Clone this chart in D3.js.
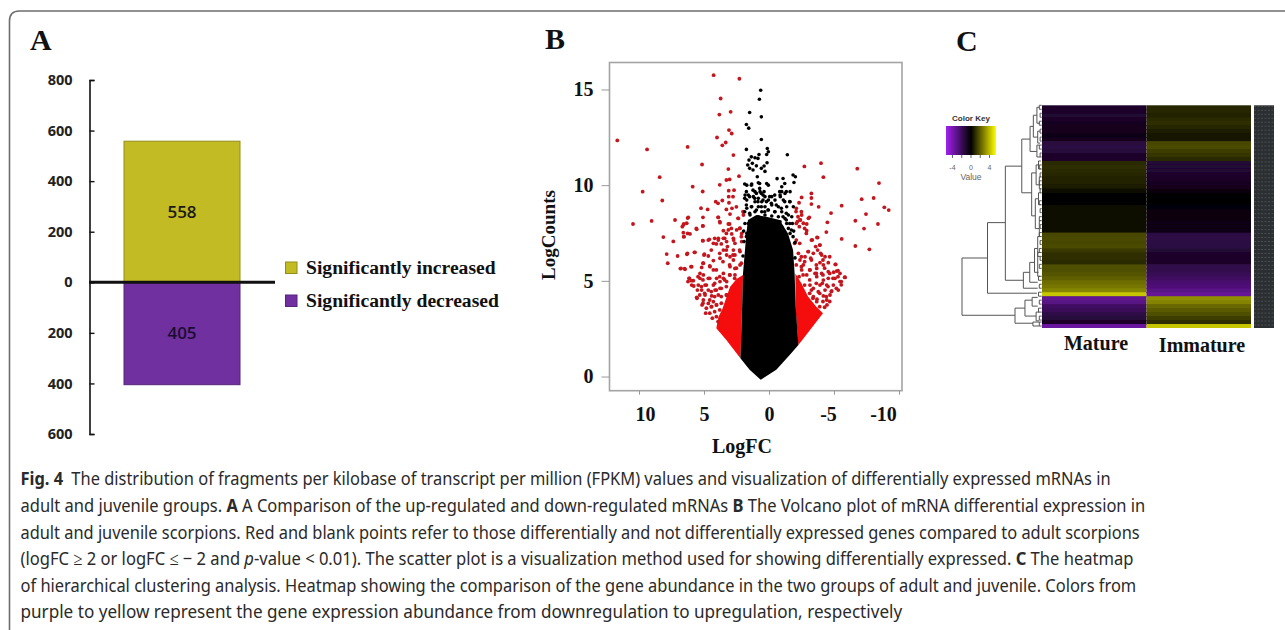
<!DOCTYPE html>
<html>
<head>
<meta charset="utf-8">
<script src="https://cdn.jsdelivr.net/npm/d3@7"></script>
<style>
  html, body { margin: 0; padding: 0; background: #fff; }
  svg { display: block; }
  .serif { font-family: "Liberation Serif", serif; font-weight: 700; fill: #111; }
  .sans { font-family: "Open Sans", sans-serif; }
</style>
</head>
<body>
<svg id="chart" width="1285" height="630"></svg>
<script>
// MARK: Panel A data.

const barTicks  = [800, 600, 400, 200, 0, -200, -400, -600]
const barLabels = ['Significantly increased', 'Significantly decreased']
const barValues = [558, -405]
const barColors = ['#c2bb24', '#7030a0']

// MARK: Panel B data. Pairs are [logFC, logCounts].

const volcanoXTicks = [10, 5, 0, -5, -10]
const volcanoYTicks = [15, 10, 5, 0]

const blackBody = [
  [.64, -.17], [1.49, .35], [2.2, .96], [2.15, 1.91], [2.08, 3.31], [2, 5.39], [1.87, 6.44], [1.74, 7.48], [1.62, 8.18],
  [.97, 8.44], [.2, 8.35], [-.82, 8.18], [-1.46, 7.48], [-1.85, 6.61], [-1.97, 5.39], [-2.05, 3.65], [-2.26, 1.65],
  [-1.59, 1.13], [-.56, .35],
]
const redWingLeft = [[2.2, .96], [3.28, 1.91], [4.05, 2.52], [3.9, 3.1], [3.6, 3.5], [3, 4.68], [2.5, 5.1], [2, 5.3], [2.1, 3]]
const redWingRight = [[-2.26, 1.65], [-4.15, 3.31], [-3.64, 3.65], [-3, 4.18], [-2.49, 4.88], [-2.03, 5.39], [-2.05, 3.5]]

const redPoints = [
  [4.26, 15.75], [2.28, 15.56], [3.72, 14.53], [3.82, 13.69], [2.95, 13.83], [3.08, 12.88], [2.87, 12.7], [4, 12.49],
  [3.33, 12.23], [3.59, 12.08], [11.67, 12.34], [9.38, 11.87], [6.26, 12], [2.74, 11.57], [5.15, 11.08], [3.13, 10.84],
  [8.41, 10.42], [2.31, 10.47], [3.28, 10.27], [3.03, 10.3], [3.79, 10.02], [5.87, 9.92], [9.72, 9.66], [5.1, 9.67],
  [3.1, 9.71], [2.69, 9.74], [8.21, 9.2], [4.1, 9.14], [3.92, 9.05], [3.59, 9.2], [3.1, 9.4], [2.77, 9.4], [3.08, 9.08],
  [2.51, 8.87], [5.23, 8.8], [4.72, 8.73], [3.28, 8.73], [2.85, 8.79], [2, 8.61], [10.46, 7.97], [9.03, 8.13], [7.23, 8.18],
  [6.26, 8.28], [6.56, 7.97], [6.67, 7.83], [5.08, 8.32], [3.92, 8.32], [3.79, 8.09], [3.03, 7.97], [2.38, 8.27], [5.08, 7.87],
  [5.59, 7.74], [6.26, 7.48], [6.56, 7.31], [8.13, 7.29], [7.36, 7.06], [5.08, 7.1], [4.67, 7.13], [4.18, 7.22], [3.9, 7.13],
  [3.67, 6.93], [3.28, 7.48], [2.9, 7.74], [2.26, 7.74], [2.13, 7.31], [3.41, 7.22], [2.72, 7.13], [4.05, 6.93], [7.87, 6.4],
  [7.03, 6.3], [6.31, 6.39], [5.74, 6.49], [4.97, 6.39], [4.44, 6.61], [3.79, 6.44], [3.28, 6.61], [2.77, 6.35], [2.26, 6.61],
  [7.79, 5.92], [6.82, 5.64], [6.49, 5.64], [6, 5.74], [5.08, 5.92], [4.56, 5.78], [4.05, 5.57], [3.54, 6], [3.03, 5.83],
  [2.51, 5.66], [2.13, 5.92], [6.15, 5.13], [5.97, 5.01], [6.23, 4.96], [5.79, 4.73], [5.46, 5.22], [5.08, 5.05], [5.2, 4.7],
  [5.51, 4.52], [4.82, 4.78], [4.56, 5.13], [4.18, 4.87], [3.79, 5.22], [3.41, 5.05], [3.03, 5.31], [2.64, 5.13], [5.33, 4.26],
  [4.95, 4.35], [4.44, 4.44], [4.05, 4.52], [3.67, 4.61], [3.28, 4.7], [5.54, 4.09], [5.08, 3.83], [4.56, 4], [4.18, 4.18],
  [3.67, 4.18], [3.28, 4.26], [4.82, 3.57], [4.44, 3.65], [4.05, 3.74], [3.67, 3.83], [4.56, 3.31], [4.18, 3.39], [3.79, 3.48],
  [4.36, 3.05], [4.05, 3.13], [3.92, 2.87], [5.15, 3.74], [4.87, 3.31],
  [6.21, 8.32], [6.59, 7.92], [6.33, 8.01], [5.1, 7.87], [5.56, 7.69], [6.59, 7.52], [6.08, 7.45], [6.54, 7.31], [3.9, 8.32],
  [3.77, 8.04], [3, 8.49], [2.36, 8.27], [1.97, 8.44], [3.13, 7.97], [2.49, 7.66], [2.23, 7.75], [3.51, 7.62], [3.13, 7.66],
  [2.87, 7.45], [2.1, 7.48], [5.1, 7.1], [4.59, 7.17], [4.28, 6.96], [3.9, 7.22], [3.51, 7.22], [3.26, 7.05], [2.74, 7.22],
  [2.62, 6.96], [2.1, 7.05], [3.51, 6.61], [3.2, 6.79], [2.74, 6.61], [3, 6.26], [2.62, 6.35], [2.23, 6.53], [6.28, 6.44],
  [5.69, 6.49], [5, 6.35], [4.67, 6.3], [4.28, 6.06], [3.77, 6.18], [3.26, 6.35], [2.74, 6.09], [5.05, 5.92], [5.18, 5.7],
  [4.54, 5.74], [6.46, 5.6], [5.95, 5.74], [6.77, 5.65], [4.28, 5.57], [3.51, 5.39], [3, 5.74], [2.62, 5.65], [2.23, 5.83],
  [5.31, 5.39], [5.05, 5.31], [6.13, 5.13], [5.82, 5.01], [5.31, 5.13], [4.67, 5.13], [4.03, 5.13], [3.51, 5.13], [3, 5.31],
  [2.62, 5.31], [5.95, 4.78], [5.44, 4.78], [4.92, 4.78], [4.28, 4.78], [3.77, 4.96], [3.26, 4.96], [5.18, 4.52], [4.67, 4.52],
  [4.15, 4.52], [3.77, 4.61], [5.56, 4.14], [4.92, 4.26], [4.41, 4.21], [3.9, 4.26], [5.05, 4], [4.67, 3.82], [4.28, 3.91],
  [4.41, 3.65], [4.03, 3.74], [3.26, 4.26],
  [-2.72, 10.98], [-4, 11.15], [-4.18, 10.42], [-6.79, 10.86], [-8.46, 10.11], [-7.13, 9.27], [-8.05, 9.33], [-8.87, 8.84],
  [-9.21, 8.7], [-5.59, 8.93], [-4.77, 8.54], [-3.82, 8.87], [-3.26, 9.57], [-3.26, 9.33], [-3.26, 9.01], [-2.51, 9.36],
  [-2.31, 9.08], [-2.1, 8.79], [-3.03, 8.27], [-4.49, 8.06], [-6.64, 8.14], [-7.46, 8.49], [-8.38, 7.97], [-7.31, 7.73],
  [-4.41, 7.55], [-2.74, 7.74], [-2.23, 8.35], [-2.41, 8.18], [-2.1, 8], [-2.49, 8.61], [-5.59, 7.19], [-6.64, 6.82],
  [-7.72, 6.65], [-3.69, 7.27], [-3.26, 7.13], [-2.87, 7.48], [-3.9, 6.87], [-3.59, 6.79], [-2.1, 7.13], [-1.97, 6.96],
  [-2.36, 6.96], [-3, 6.53], [-3.97, 6.44], [-4.67, 6.26], [-4.15, 6.09], [-2.49, 6.26], [-2.74, 6], [-3.26, 6.09], [-3.64, 5.83],
  [-4.28, 5.66], [-5.1, 5.86], [-4.97, 5.45], [-5.31, 5.53], [-5.82, 5.19], [-5.56, 4.96], [-5.31, 5.22], [-5.56, 4.79],
  [-4.92, 5.13], [-4.67, 5.39], [-4.15, 5.31], [-3.64, 5.39], [-3.13, 5.57], [-2.62, 5.31], [-2.31, 5.22], [-2.1, 5.83],
  [-2.49, 5.74], [-5.18, 4.61], [-4.79, 4.44], [-4.54, 4.7], [-4.1, 4.87], [-3.64, 4.87], [-3.13, 5.05], [-2.74, 4.78],
  [-3.26, 4.52], [-3.9, 4.35], [-4.41, 4.18], [-4.67, 3.92], [-4.15, 3.92], [-3.69, 4.04], [-3.38, 4.09], [-3.9, 3.65],
  [-4.28, 3.62], [-4.46, 3.74], [-3.13, 4.35],
  [-2.08, 8.62], [-2.51, 8.44], [-3.1, 8.32], [-2.9, 7.97], [-2.18, 8.09], [-2.38, 8.18], [-2.33, 7.83], [-2.9, 7.62], [-2.64, 8.01],
  [-3.33, 7.14], [-3.74, 7.26], [-3.92, 6.87], [-3.74, 6.61], [-3.41, 6.44], [-3.03, 6.53], [-2.77, 6.26], [-3.21, 6.18], [-4.05, 6.35],
  [-4.31, 6.26], [-3.92, 5.95], [-4.56, 5.95], [-5.13, 5.86], [-4.18, 5.83], [-3.67, 5.65], [-3.15, 5.57], [-2.64, 5.83], [-2.38, 6.09],
  [-2.26, 6.44], [-2.51, 5.57], [-2.9, 5.31], [-3.54, 5.39], [-4.05, 5.39], [-4.56, 5.48], [-5.21, 5.51], [-5.46, 5.39], [-5.85, 5.18],
  [-5.08, 5.13], [-4.56, 5.13], [-4.18, 5.04], [-3.67, 5.22], [-5.46, 4.96], [-4.95, 4.78], [-4.44, 4.78], [-3.92, 4.78], [-3.41, 4.61],
  [-3.15, 4.78], [-5.33, 4.52], [-4.82, 4.47], [-4.31, 4.52], [-3.79, 4.43], [-4.69, 4.26], [-4.18, 4.21], [-3.41, 4.17], [-3.67, 3.91],
  [-4.44, 4],
]

const blackPoints = [
  [.64, 14.96], [.74, 14.49], [1.49, 13.8], [.59, 13.57], [1.74, 13.17], [1.56, 12.98], [.59, 12.39], [1.74, 11.87], [.13, 11.92],
  [.05, 11.75], [.18, 11.6], [.77, 11.6], [-1.41, 11.59], [1.36, 11.48], [.85, 11.4], [1.54, 11.31], [1.08, 11.43], [1.64, 11.05],
  [1.28, 11.14], [.97, 11.01], [.59, 10.88], [.15, 11.17], [.38, 11], [1.49, 10.88], [1.23, 10.79], [.31, 10.72], [.9, 10.44],
  [-.62, 10.34], [-1.08, 10.35], [-1.85, 10.53], [-2.03, 10.44], [-1.21, 10.09], [-1.92, 10.14], [1.87, 10.06], [1.36, 10],
  [.72, 10.09], [.05, 10], [1.74, 9.66], [1.23, 9.74], [.72, 9.83], [.59, 9.57], [.97, 9.57], [.46, 9.48], [1.87, 9.31], [1.49, 9.4],
  [1.1, 9.31], [.85, 9.14], [-.05, 9.4], [-.44, 9.48], [-.82, 9.66], [-1.33, 9.66], [-.87, 9.4], [-1.21, 9.14], [-1.59, 9.14],
  [1.74, 8.96], [1.36, 8.87], [.59, 8.87], [.2, 9.14], [-.18, 9.05], [-.56, 8.96], [.46, 9.22], [.08, 8.7], [-.44, 8.61],
  [-.95, 8.79], [-1.33, 8.53], [.97, 8.7], [1.87, 8.61], [1.49, 8.53], [.33, 8.61], [-1.59, 8], [-1.33, 8.18], [-1.72, 7.66],
  [-1.85, 7.31], [1.74, 7.31], [1.92, 7.05], [-1.08, 8.35],
  [1.71, 10], [1.33, 10.06], [.82, 10.13], [.18, 10.09], [-.98, 9.92], [-1.62, 9.66], [-.98, 9.66], [1.08, 9.66], [.69, 9.66],
  [.38, 9.66], [1.59, 9.48], [1.2, 9.4], [.82, 9.31], [.31, 9.4], [-.21, 9.4], [-.85, 9.48], [-1.23, 9.57], [1.84, 9.48],
  [1.71, 9.22], [1.08, 9.13], [.56, 9.13], [.05, 9.22], [-.46, 9.22], [-1.1, 9.22], [-1.62, 9.13], [1.33, 8.87], [.82, 8.87],
  [.31, 8.87], [-.21, 8.96], [-.72, 8.87], [-1.36, 8.87], [-1.87, 8.87], [1.71, 8.79], [1.08, 8.61], [.56, 8.61], [.05, 8.7],
  [-.46, 8.61], [-.98, 8.61], [-1.49, 8.44], [1.46, 8.44], [.82, 8.35], [.31, 8.44], [-.21, 8.39], [-.72, 8.35], [-1.23, 8.26],
  [-1.75, 8.35], [1.2, 8.18], [.69, 8.18], [.18, 8.18], [-.34, 8.09], [-.85, 8.09], [-1.36, 8], [1.59, 8], [1.08, 7.91],
  [.56, 7.91], [.05, 7.91], [-.46, 7.83], [-.98, 7.83], [-1.49, 7.74], [1.46, 7.74], [-.59, 7.57], [-1.1, 7.57], [1.71, 7.48],
  [-1.62, 7.48], [1.95, 7.6], [1.85, 8], [2, 6.3], [-2, 6.2], [-2, 7], [-1.9, 7.6], [-1.8, 8],
]

// MARK: Panel C data.

const heatColumns = ['Mature', 'Immature']
const heatMature = [
  -1, -1, -1.1, -.9, -.8, -.7, -.6, -.5, -.6, -1.4, -1.5, -1.3, -1, -1, .9, 1, .9, .8, .7, .7, .6, .2, .1, .1, .1, .2, .3, .2,
  .3, .3, .3, .3, 1.5, 1.6, 1.5, 1.6, 1.2, 1, 1, .9, 1.7, 1.7, 1.8, 2, 2.3, 2.5, 2.8, 4.2, -3.2, -3, -2.2, -2, -1.6, -1.3, -1, -3.6,
]
const heatImmature = [
  .8, .8, .7, .9, 1, .8, .6, .5, .4, 1.5, 1.6, 1.3, 1.1, .9, -1.2, -1.2, -1.1, -1, -.9, -.8, -.7, -.3, -.1, -.1, -.1, -.2, -.3, -.3,
  -.3, -.4, -.4, -.4, -1.5, -1.6, -1.5, -1.5, -1.2, -1, -1, -.9, -1.7, -1.7, -1.9, -2.2, -2.5, -2.7, -3, -3.4, 3, 2.8, 2.2, 1.9, 1.7, 1.3, 1, 4.2,
]
const keyTicks = [-4, -2, 0, 2, 4]
const keyLabels = [-4, 0, 4]

// Each bracket: [height, top row, bottom row, top child height, bottom child height].
const dendroBrackets = [
  [1, 38.4, 52.8, .68, .335], [.68, 29.5, 47.25, .456, .06], [.456, 15.3, 44, .25, .23], [.25, 8.5, 22, .146, .126],
  [.146, 5.3, 11.6, .105, .06], [.126, 17, 27.8, .07, .08], [.23, 42, 46, .15, .05], [.15, 39.5, 44.5, .09, .05],
  [.09, 36, 42, .05, .04], [.335, 51, 54.8, .21, .11], [.21, 49, 53, .12, .07], [.12, 48.3, 50.5, .05, .05],
  [.07, 52, 54.2, .03, .03], [.11, 54.5, 55.5, .03, .03], [.105, 2.5, 8, .06, .05], [.06, .5, 4.5, .03, .02],
  [.05, 6.5, 9.5, .02, .02], [.06, 10, 13, .03, .02], [.07, 15, 20, .04, .02], [.04, 14, 16, .01, .01], [.03, 18, 21, .01, .01],
  [.08, 23.5, 31, .04, .03], [.04, 22, 25, .01, .01], [.03, 29, 33, .01, .01], [.05, 33, 38, .02, .02], [.05, 37, 43, .02, .02],
  [.03, 0, 1, 0, 0], [.02, 2, 3, 0, 0], [.03, 4, 5, 0, 0], [.02, 6, 7, 0, 0], [.02, 8, 9, 0, 0], [.03, 10, 11, 0, 0], [.02, 12, 13, 0, 0],
  [.03, 15, 16, 0, 0], [.02, 17, 18, 0, 0], [.03, 19, 20, 0, 0], [.02, 21, 22, 0, 0], [.03, 24, 25, 0, 0], [.02, 26, 27, 0, 0],
  [.03, 28, 29, 0, 0], [.02, 30, 31, 0, 0], [.03, 32, 33, 0, 0], [.02, 34, 35, 0, 0], [.03, 36, 37, 0, 0], [.02, 38, 39, 0, 0],
  [.03, 40, 41, 0, 0], [.04, 43, 44, 0, 0], [.03, 45, 46, 0, 0], [.04, 47, 48, 0, 0], [.03, 49, 50, 0, 0], [.04, 51, 52, 0, 0],
  [.03, 53, 54, 0, 0], [.03, 54.5, 55.5, 0, 0],
]

// MARK: Caption. Segments are [text, style].

const captionLines = [
  { end: 1111, parts: [['Fig. 4', 'b'], ['\u2002The distribution of fragments per kilobase of transcript per million (FPKM) values and visualization of differentially expressed mRNAs in']] },
  { end: 1145, parts: [['adult and juvenile groups. '], ['A', 'b'], [' A Comparison of the up-regulated and down-regulated mRNAs '], ['B', 'b'], [' The Volcano plot of mRNA differential expression in']] },
  { end: 1140, parts: [['adult and juvenile scorpions. Red and blank points refer to those differentially and not differentially expressed genes compared to adult scorpions']] },
  { end: 1133, parts: [['(logFC \u2265 2 or logFC \u2264 \u2212 2 and '], ['p', 'i'], ['-value < 0.01). The scatter plot is a visualization method used for showing differentially expressed. '], ['C', 'b'], [' The heatmap']] },
  { end: 1137, parts: [['of hierarchical clustering analysis. Heatmap showing the comparison of the gene abundance in the two groups of adult and juvenile. Colors from']] },
  { end: 902, parts: [['purple to yellow represent the gene expression abundance from downregulation to upregulation, respectively']] },
]

// MARK: Set up.

const svg = d3.select('#chart')
const defs = svg.append('defs')
defs.append('filter').attr('id', 'soft').append('feGaussianBlur').attr('stdDeviation', .5)

// The rounded card around the figure.
svg.append('path')
  .attr('d', 'M9.5,630 V21 Q9.5,11 19.5,11 H1285')
  .attr('fill', 'none')
  .attr('stroke', '#6e6e6e')
  .attr('stroke-width', 1.6)

const panelLetter = (text, x, y) => svg.append('text')
  .attr('class', 'serif')
  .attr('x', x)
  .attr('y', y)
  .attr('font-size', 30)
  .text(text)

panelLetter('A', 30, 50)
panelLetter('B', 545, 49)
panelLetter('C', 956, 51)

// MARK: Panel A.

const barY = d3.scaleLinear().domain([-600, 800]).range([434, 80])
const barX = d3.scaleBand().domain(barLabels).range([124, 240])

const barAxis = svg.append('g')
  .attr('transform', 'translate(89.5, 0)')
  .call(d3.axisLeft(barY).tickValues(barTicks).tickSize(-5).tickPadding(17).tickFormat(Math.abs))
barAxis.select('.domain').attr('stroke', '#111').attr('stroke-width', 1.6)
barAxis.selectAll('.tick line').attr('stroke', '#111').attr('stroke-width', 1.4)
barAxis.selectAll('.tick text')
  .attr('class', 'sans')
  .attr('font-size', 14.5)
  .attr('font-weight', 700)
  .attr('fill', '#222')

barLabels.forEach((label, i) => {
  const value = barValues[i]
  svg.append('rect')
    .attr('x', 124)
    .attr('width', barX.range()[1] - barX.range()[0])
    .attr('y', barY(Math.max(value, 0)))
    .attr('height', Math.abs(barY(value) - barY(0)))
    .attr('fill', barColors[i])
    .attr('stroke', d3.color(barColors[i]).darker(.8))
  svg.append('text')
    .attr('class', 'sans')
    .attr('x', 182)
    .attr('y', barY(value / 2) + 6)
    .attr('text-anchor', 'middle')
    .attr('font-size', 17)
    .attr('font-weight', 600)
    .attr('fill', i ? '#1c0c30' : '#1a1a10')
    .text(Math.abs(value))
  svg.append('rect')
    .attr('x', 285.5)
    .attr('y', 262 + i * 33)
    .attr('width', 11.5)
    .attr('height', 11.5)
    .attr('fill', barColors[i])
    .attr('stroke', d3.color(barColors[i]).darker(.8))
  svg.append('text')
    .attr('class', 'serif')
    .attr('x', 306)
    .attr('y', 274 + i * 33)
    .attr('font-size', 19.6)
    .text(label)
})

svg.append('line')
  .attr('x1', 89)
  .attr('x2', 275)
  .attr('y1', barY(0))
  .attr('y2', barY(0))
  .attr('stroke', '#111')
  .attr('stroke-width', 3)

// MARK: Panel B.

const volX = d3.scaleLinear().domain([12.27, -10.23]).range([609.5, 902])
const volY = d3.scaleLinear().domain([-.74, 16.41]).range([390.7, 62.5])
const toPolygon = (pts) => d3.line().x((d) => volX(d[0])).y((d) => volY(d[1])).curve(d3.curveLinearClosed)(pts)

const volMarks = svg.append('g').attr('filter', 'url(#soft)')

volMarks.selectAll('.red-wing')
  .data([redWingLeft, redWingRight]).enter()
  .append('path')
  .attr('d', toPolygon)
  .attr('fill', '#f50808')
volMarks.selectAll('.red-dot')
  .data(redPoints).enter()
  .append('circle')
  .attr('cx', (d) => volX(d[0]))
  .attr('cy', (d) => volY(d[1]))
  .attr('r', 1.9)
  .attr('fill', '#c4141c')
volMarks.append('path')
  .attr('d', toPolygon(blackBody))
  .attr('fill', '#000')
volMarks.selectAll('.black-dot')
  .data(blackPoints).enter()
  .append('circle')
  .attr('cx', (d) => volX(d[0]))
  .attr('cy', (d) => volY(d[1]))
  .attr('r', 1.8)
  .attr('fill', '#000')

svg.append('rect')
  .attr('x', 609.5)
  .attr('y', 62.5)
  .attr('width', 292.5)
  .attr('height', 328.2)
  .attr('fill', 'none')
  .attr('stroke', '#a4a4a4')
  .attr('stroke-width', 1.6)

const volAxisLeft = svg.append('g')
  .attr('transform', 'translate(609.5, 0)')
  .call(d3.axisLeft(volY).tickValues(volcanoYTicks).tickSize(8).tickPadding(8))
const volAxisBottom = svg.append('g')
  .attr('transform', 'translate(0, 390.7)')
  .call(d3.axisBottom(volX).tickValues(volcanoXTicks).tickSize(4).tickPadding(12).tickFormat(String))
for (const axis of [volAxisLeft, volAxisBottom]) {
  axis.select('.domain').remove()
  axis.selectAll('.tick line').attr('stroke', '#999')
  axis.selectAll('.tick text')
    .attr('class', 'serif')
    .attr('font-size', 20)
}
// The -5 and -10 labels sit left of their ticks in the original.
volAxisBottom.selectAll('.tick text').attr('dx', (d) => d > 5 ? 6 : d === -5 ? -6 : d === -10 ? -16 : 0)

svg.append('text')
  .attr('class', 'serif')
  .attr('x', 742)
  .attr('y', 453)
  .attr('text-anchor', 'middle')
  .attr('font-size', 20)
  .text('LogFC')
svg.append('text')
  .attr('class', 'serif')
  .attr('transform', 'translate(555, 235) rotate(-90)')
  .attr('text-anchor', 'middle')
  .attr('font-size', 19)
  .text('LogCounts')

// MARK: Panel C.

const heatColor = d3.scaleLinear().domain([-5.4, 0, 5.4]).range(['#a020f0', '#000000', '#ffff00'])
const rowIds = d3.range(heatMature.length)
const heatRow = d3.scaleBand().domain(rowIds).range([105.3, 328])
const heatCol = d3.scaleBand().domain(heatColumns).range([1042, 1251])
const rowPos = d3.scaleLinear().domain([0, rowIds.length]).range([105.3, 328])
const dendroX = d3.scaleLinear().domain([0, 1]).range([1041.7, 962])

const heatMarks = svg.append('g').attr('filter', 'url(#soft)')
heatColumns.forEach((col, c) => {
  const values = c ? heatImmature : heatMature
  // Rows overlap by a pixel so no white shows through the antialiased edges.
  heatMarks.selectAll(`.cell-${c}`)
    .data(values).enter()
    .append('rect')
    .attr('x', heatCol(col))
    .attr('width', heatCol.bandwidth())
    .attr('y', (d, i) => heatRow(i))
    .attr('height', (d, i) => heatRow.bandwidth() + (i < values.length - 1 ? 1 : 0))
    .attr('fill', (d) => heatColor(d))
})

svg.selectAll('.bracket')
  .data(dendroBrackets).enter()
  .append('path')
  .attr('d', ([h, a, b, ha, hb]) =>
    `M${dendroX(ha)},${rowPos(a)} H${dendroX(h)} V${rowPos(b)} H${dendroX(hb)}`)
  .attr('fill', 'none')
  .attr('stroke', '#555')
  .attr('stroke-width', 1)

// Gene names in the original are an unreadable dark strip, so only the strip is kept.
svg.append('rect')
  .attr('x', 1254)
  .attr('y', 105.3)
  .attr('width', 20)
  .attr('height', 222.7)
  .attr('fill', '#2c2f31')
svg.selectAll('.gene-row')
  .data(rowIds).enter()
  .append('line')
  .attr('x1', 1254)
  .attr('x2', 1274)
  .attr('y1', (d) => heatRow(d) + 1)
  .attr('y2', (d) => heatRow(d) + 1)
  .attr('stroke', '#5a5e60')
  .attr('stroke-width', .7)
  .attr('stroke-dasharray', '2 1.5')

heatColumns.forEach((col, c) => {
  svg.append('text')
    .attr('class', 'serif')
    .attr('x', c ? 1202 : 1096)
    .attr('y', c ? 352 : 350)
    .attr('text-anchor', 'middle')
    .attr('font-size', 20)
    .text(col)
})

// Colour key.
const keyX = d3.scaleLinear().domain([-5.4, 5.4]).range([946, 996])
const keyGradient = defs.append('linearGradient').attr('id', 'key-gradient')
keyGradient.selectAll('stop')
  .data(heatColor.domain()).enter()
  .append('stop')
  .attr('offset', (d) => (keyX(d) - 946) / 50)
  .attr('stop-color', (d) => heatColor(d))
svg.append('rect')
  .attr('x', 946)
  .attr('y', 126)
  .attr('width', 50)
  .attr('height', 29)
  .attr('fill', 'url(#key-gradient)')
svg.selectAll('.key-tick')
  .data(keyTicks).enter()
  .append('line')
  .attr('x1', keyX)
  .attr('x2', keyX)
  .attr('y1', 155)
  .attr('y2', 158)
  .attr('stroke', '#666')
svg.selectAll('.key-label')
  .data(keyLabels).enter()
  .append('text')
  .attr('x', keyX)
  .attr('y', 170)
  .attr('text-anchor', 'middle')
  .attr('font-family', 'Liberation Sans')
  .attr('font-size', 7)
  .attr('fill', '#666')
  .text((d) => d)
svg.append('text')
  .attr('x', 971)
  .attr('y', 120.5)
  .attr('text-anchor', 'middle')
  .attr('font-family', 'Liberation Sans')
  .attr('font-weight', 700)
  .attr('font-size', 8)
  .attr('fill', '#333')
  .text('Color Key')
svg.append('text')
  .attr('x', 971)
  .attr('y', 180)
  .attr('text-anchor', 'middle')
  .attr('font-family', 'Liberation Sans')
  .attr('font-size', 8.5)
  .attr('fill', '#666')
  .text('Value')

// MARK: Caption. Each line is squeezed horizontally to the width it has in the original.

const caption = svg.selectAll('.caption-line')
  .data(captionLines).enter()
  .append('text')
  .attr('font-family', 'Noto Sans')
  .attr('font-size', 18.4)
  .attr('fill', '#2a2a2a')

caption.selectAll('tspan')
  .data((d) => d.parts).enter()
  .append('tspan')
  .attr('font-weight', (d) => d[1] === 'b' ? 700 : 400)
  .attr('font-style', (d) => d[1] === 'i' ? 'italic' : 'normal')
  .text((d) => d[0])

caption.attr('transform', function (d, i) {
  const squeeze = (d.end - 20.5) / this.getComputedTextLength()
  return `translate(20.5, ${485.3 + i * 26.6}) scale(${squeeze}, 1)`
})
</script>
</body>
</html>
